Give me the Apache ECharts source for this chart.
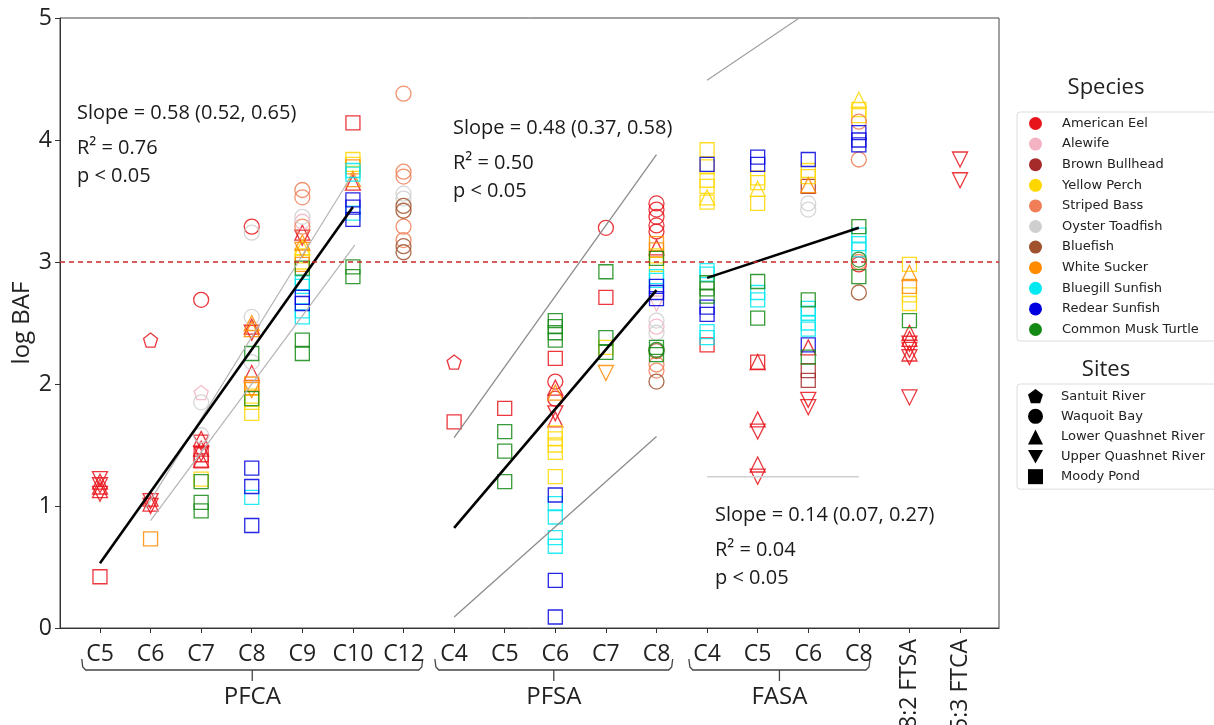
<!DOCTYPE html>
<html>
<head>
<meta charset="utf-8">
<script src="https://cdn.jsdelivr.net/npm/echarts@6.0.0/dist/echarts.min.js"></script>
<style>
  html, body { margin: 0; padding: 0; background: #ffffff; }
  #chart { width: 1214px; height: 725px; }
</style>
</head>
<body>
<div id="chart"></div>
<script>
// ---- categories (x positions are their indices) ----
const categories = ['C5', 'C6', 'C7', 'C8', 'C9', 'C10', 'C12',
                    'C4', 'C5', 'C6', 'C7', 'C8',
                    'C4', 'C5', 'C6', 'C8',
                    '8:2 FTSA', '5:3 FTCA'];
const groupNames = ['PFCA', 'PFSA', 'FASA'];
const yTicks = [0, 1, 2, 3, 4, 5];
const threshold = 3;

// ---- sites (S Santuit, W Waquoit, L Lower Quashnet, U Upper Quashnet, M Moody Pond) ----
const siteNames = ['Santuit River', 'Waquoit Bay', 'Lower Quashnet River', 'Upper Quashnet River', 'Moody Pond'];
const siteCodes = ['S', 'W', 'L', 'U', 'M'];

// ---- log BAF by species: [category index, log BAF, site] ----
const americanEel = [
  [0, 1.13, 'L'], [0, 1.20, 'L'], [0, 1.16, 'L'], [0, 1.10, 'U'], [0, 1.17, 'U'], [0, 1.22, 'U'], [0, 0.42, 'M'],
  [1, 2.36, 'S'], [1, 1.06, 'L'], [1, 1.02, 'L'], [1, 1.00, 'U'], [1, 1.04, 'U'],
  [2, 2.69, 'W'], [2, 1.55, 'L'], [2, 1.47, 'L'], [2, 1.38, 'L'], [2, 1.52, 'U'], [2, 1.43, 'U'], [2, 1.37, 'M'], [2, 1.42, 'M'],
  [3, 3.29, 'W'], [3, 2.47, 'L'], [3, 2.09, 'L'], [3, 2.42, 'U'],
  [4, 3.24, 'L'], [4, 3.20, 'U'],
  [5, 4.14, 'M'], [5, 3.65, 'L'],
  [7, 2.18, 'S'], [7, 1.69, 'M'],
  [8, 1.80, 'M'],
  [9, 2.21, 'M'], [9, 2.02, 'W'], [9, 1.88, 'W'], [9, 1.97, 'L'], [9, 1.71, 'L'], [9, 1.76, 'U'],
  [10, 3.28, 'W'], [10, 2.71, 'M'],
  [11, 3.48, 'W'], [11, 3.43, 'W'], [11, 3.37, 'W'], [11, 3.30, 'W'], [11, 3.25, 'W'], [11, 3.12, 'L'],
  [12, 2.32, 'M'],
  [13, 2.18, 'M'], [13, 2.18, 'L'], [13, 1.71, 'L'], [13, 1.61, 'U'], [13, 1.34, 'L'], [13, 1.24, 'U'],
  [14, 2.30, 'L'], [14, 1.87, 'U'], [14, 1.81, 'U'],
  [15, 2.98, 'W'],
  [16, 2.42, 'L'], [16, 2.37, 'L'], [16, 2.25, 'L'], [16, 2.33, 'U'], [16, 2.28, 'U'], [16, 2.22, 'U'], [16, 1.89, 'U'],
  [17, 3.84, 'U'], [17, 3.67, 'U']
];
const alewife = [[2, 1.93, 'S'], [4, 3.33, 'W'], [11, 2.66, 'U'], [11, 2.47, 'W']];
const brownBullhead = [[14, 3.62, 'M'], [14, 2.11, 'M'], [14, 2.03, 'M']];
const yellowPerch = [
  [2, 1.22, 'M'],
  [3, 1.90, 'M'], [3, 1.85, 'M'], [3, 1.76, 'M'],
  [4, 3.05, 'M'], [4, 3.00, 'M'], [4, 3.12, 'L'],
  [5, 3.84, 'M'], [5, 3.80, 'M'],
  [9, 1.60, 'M'], [9, 1.55, 'M'], [9, 1.50, 'M'], [9, 1.44, 'M'], [9, 1.24, 'M'],
  [10, 2.30, 'M'],
  [11, 3.05, 'M'], [11, 2.98, 'M'],
  [12, 3.92, 'M'], [12, 3.78, 'M'], [12, 3.67, 'M'], [12, 3.62, 'M'], [12, 3.53, 'L'], [12, 3.49, 'M'],
  [13, 3.69, 'M'], [13, 3.65, 'M'], [13, 3.60, 'L'], [13, 3.48, 'M'],
  [14, 3.75, 'M'], [14, 3.70, 'M'],
  [15, 4.33, 'L'], [15, 4.25, 'M'], [15, 4.20, 'M'],
  [16, 2.98, 'M'], [16, 2.73, 'M'], [16, 2.66, 'M']
];
const stripedBass = [
  [4, 3.59, 'W'], [4, 3.53, 'W'], [4, 3.29, 'W'],
  [6, 4.38, 'W'], [6, 3.74, 'W'], [6, 3.70, 'W'], [6, 3.29, 'W'], [6, 3.18, 'W'],
  [11, 2.11, 'W'], [11, 2.16, 'W'],
  [15, 4.15, 'W'], [15, 3.84, 'W'], [15, 3.00, 'W']
];
const oysterToadfish = [
  [2, 1.85, 'W'], [2, 1.58, 'W'], [3, 3.24, 'W'], [3, 2.55, 'W'], [3, 2.18, 'W'], [4, 3.37, 'W'],
  [6, 3.56, 'W'], [6, 3.52, 'W'], [11, 2.42, 'W'], [11, 2.52, 'W'], [14, 3.48, 'W'], [14, 3.43, 'W']
];
const bluefish = [[6, 3.46, 'W'], [6, 3.42, 'W'], [6, 3.13, 'W'], [6, 3.08, 'W'], [11, 2.02, 'W'], [11, 2.27, 'W'], [15, 2.75, 'W']];
const whiteSucker = [
  [1, 0.73, 'M'], [3, 2.50, 'L'], [3, 2.45, 'L'], [3, 2.00, 'M'], [3, 1.97, 'M'], [3, 1.95, 'U'],
  [4, 3.10, 'U'], [4, 2.98, 'M'], [4, 3.16, 'L'], [5, 3.78, 'M'], [5, 3.68, 'L'],
  [9, 1.93, 'L'], [10, 2.09, 'U'], [11, 3.15, 'M'], [11, 3.10, 'M'], [14, 3.63, 'L'],
  [16, 2.91, 'L'], [16, 2.80, 'M']
];
const bluegillSunfish = [
  [3, 1.07, 'M'], [4, 2.83, 'M'], [4, 2.80, 'M'], [4, 2.60, 'M'], [4, 2.55, 'M'],
  [5, 3.75, 'M'], [5, 3.72, 'M'], [5, 3.40, 'M'],
  [9, 1.02, 'M'], [9, 0.91, 'M'], [9, 0.74, 'M'], [9, 0.67, 'M'],
  [11, 2.88, 'M'], [11, 2.85, 'M'],
  [12, 2.93, 'M'], [12, 2.90, 'M'], [12, 2.43, 'M'], [12, 2.38, 'M'],
  [13, 2.75, 'M'], [13, 2.69, 'M'],
  [14, 2.62, 'M'], [14, 2.58, 'M'], [14, 2.50, 'M'], [14, 2.45, 'M'],
  [15, 3.22, 'M'], [15, 3.15, 'M'], [15, 3.10, 'M']
];
const redearSunfish = [
  [3, 1.31, 'M'], [3, 1.16, 'M'], [3, 0.84, 'M'], [4, 2.71, 'M'], [4, 2.66, 'M'],
  [5, 3.51, 'M'], [5, 3.45, 'M'], [5, 3.35, 'M'],
  [9, 1.09, 'M'], [9, 0.39, 'M'], [9, 0.09, 'M'],
  [11, 2.80, 'M'], [11, 2.75, 'M'], [11, 2.70, 'M'],
  [12, 3.80, 'M'], [12, 2.63, 'M'], [12, 2.57, 'M'],
  [13, 3.86, 'M'], [13, 3.80, 'M'], [14, 3.84, 'M'], [14, 2.32, 'M'],
  [15, 4.06, 'M'], [15, 4.00, 'M'], [15, 3.96, 'M']
];
const muskTurtle = [
  [2, 1.20, 'M'], [2, 1.03, 'M'], [2, 0.96, 'M'], [3, 2.25, 'M'], [3, 1.88, 'M'],
  [4, 2.95, 'M'], [4, 2.36, 'M'], [4, 2.25, 'M'], [5, 2.96, 'M'], [5, 2.88, 'M'],
  [8, 1.61, 'M'], [8, 1.45, 'M'], [8, 1.20, 'M'],
  [9, 2.52, 'M'], [9, 2.47, 'M'], [9, 2.42, 'M'], [9, 2.36, 'M'],
  [10, 2.92, 'M'], [10, 2.38, 'M'], [10, 2.26, 'M'],
  [11, 3.03, 'M'], [11, 2.30, 'M'], [11, 2.24, 'M'], [11, 2.28, 'W'],
  [12, 2.83, 'M'], [12, 2.78, 'M'], [12, 2.72, 'M'], [13, 2.84, 'M'], [13, 2.54, 'M'],
  [14, 2.69, 'M'], [14, 2.22, 'M'], [15, 3.29, 'M'], [15, 2.88, 'M'], [15, 3.02, 'W'],
  [16, 2.52, 'M']
];

// ---- regression fits and their bounds: [category index, log BAF] ----
const pfcaFit = [[0, 0.53], [5, 3.45]];
const pfcaUpper = [[0.9, 0.98], [4.92, 3.67]];
const pfcaLower = [[1.0, 0.88], [5.04, 3.14]];
const pfsaFit = [[7, 0.82], [11, 2.77]];
const pfsaUpper = [[7, 1.56], [11, 3.88]];
const pfsaLower = [[7, 0.09], [11, 1.57]];
const fasaFit = [[12, 2.87], [15, 3.28]];
const fasaUpper = [[12, 4.49], [15, 5.33]];
const fasaLower = [[12, 1.24], [15, 1.24]];

const fitStats = [
  ['Slope = 0.58 (0.52, 0.65)', 'R² = 0.76', 'p < 0.05'],
  ['Slope = 0.48 (0.37, 0.58)', 'R² = 0.50', 'p < 0.05'],
  ['Slope = 0.14 (0.07, 0.27)', 'R² = 0.04', 'p < 0.05']
];

// ---- drawing ----
const species = [
  { name: 'American Eel', color: '#e8141b', data: americanEel },
  { name: 'Alewife', color: '#f4b3c2', data: alewife },
  { name: 'Brown Bullhead', color: '#a52a2a', data: brownBullhead },
  { name: 'Yellow Perch', color: '#ffd700', data: yellowPerch },
  { name: 'Striped Bass', color: '#f07f57', data: stripedBass },
  { name: 'Oyster Toadfish', color: '#cfcfcf', data: oysterToadfish },
  { name: 'Bluefish', color: '#a0522d', data: bluefish },
  { name: 'White Sucker', color: '#ff8c00', data: whiteSucker },
  { name: 'Bluegill Sunfish', color: '#00e8f0', data: bluegillSunfish },
  { name: 'Redear Sunfish', color: '#0000e0', data: redearSunfish },
  { name: 'Common Musk Turtle', color: '#148a14', data: muskTurtle }
];

const PENTAGON = 'path://M0,-1L0.951,-0.309L0.588,0.809L-0.588,0.809L-0.951,-0.309Z';
const DOWN_TRI = 'path://M-1,-0.9L1,-0.9L0,0.9Z';
const siteStyle = {
  S: { symbol: PENTAGON, size: 14, rotate: 0 },
  W: { symbol: 'circle', size: 15, rotate: 0 },
  L: { symbol: 'triangle', size: 15, rotate: 0 },
  U: { symbol: 'triangle', size: 15, rotate: 180 },
  M: { symbol: 'rect', size: 14, rotate: 0 }
};
const siteLegendIcons = [PENTAGON, 'circle', 'triangle', DOWN_TRI, 'rect'];

const TEXT_FONT = '"Open Sans", "Noto Sans", sans-serif';
const LEGEND_FONT = '"DejaVu Sans", sans-serif';
const X_MIN = -0.79, X_MAX = 17.77;

const series = [];
species.forEach(sp => {
  series.push({
    name: sp.name,
    type: 'scatter',
    z: 2,
    silent: true,
    itemStyle: { color: 'transparent', borderColor: sp.color, borderWidth: 1.3, opacity: 0.85 },
    emphasis: { disabled: true },
    data: sp.data.map(([x, y, s]) => ({
      value: [x, y],
      symbol: siteStyle[s].symbol,
      symbolSize: siteStyle[s].size,
      symbolRotate: siteStyle[s].rotate
    }))
  });
});
siteNames.forEach(n => {
  series.push({ name: n, type: 'scatter', data: [], itemStyle: { color: '#000' } });
});

function fitLine(data, color, width, z) {
  return {
    type: 'line', data: data, symbol: 'none', silent: true, z: z, clip: true,
    lineStyle: { color: color, width: width }, emphasis: { disabled: true }
  };
}
series.push(fitLine(pfcaUpper, '#b5b5b5', 1.2, 3));
series.push(fitLine(pfcaLower, '#b5b5b5', 1.2, 3));
series.push(fitLine(pfsaUpper, '#8c8c8c', 1.3, 3));
series.push(fitLine(pfsaLower, '#8c8c8c', 1.3, 3));
series.push(fitLine(fasaUpper, '#a0a0a0', 1.2, 3));
series.push(fitLine(fasaLower, '#d0d0d0', 1.5, 3));
const dashed = fitLine(pfcaFit, '#000', 2.6, 4);
dashed.markLine = {
  silent: true, symbol: ['none', 'none'], label: { show: false },
  lineStyle: { color: '#cc2a2a', type: [5, 4], width: 1.5 },
  data: [{ yAxis: threshold }]
};
series.push(dashed);
series.push(fitLine(pfsaFit, '#000', 2.6, 4));
series.push(fitLine(fasaFit, '#000', 2.6, 4));

const option = {
  animation: false,
  backgroundColor: '#ffffff',
  grid: {
    left: 60, top: 18, right: 215, bottom: 97,
    show: true, borderColor: '#444', borderWidth: 1, backgroundColor: 'transparent',
    outerBoundsMode: 'none'
  },
  xAxis: [
    {
      type: 'value', min: X_MIN, max: X_MAX,
      splitLine: { show: false },
      axisLine: { show: true, onZero: false, lineStyle: { color: '#333', width: 1 } },
      axisTick: { show: true, length: 5, lineStyle: { color: '#333' },
                  customValues: categories.map((c, i) => i) },
      axisLabel: {
        customValues: categories.slice(0, 16).map((c, i) => i),
        formatter: v => categories[Math.round(v)],
        fontFamily: TEXT_FONT, fontSize: 23, color: '#222', margin: 15
      }
    },
    {
      type: 'value', min: X_MIN, max: X_MAX, position: 'bottom',
      splitLine: { show: false }, axisLine: { show: false, onZero: false }, axisTick: { show: false },
      axisLabel: {
        customValues: [16, 17],
        formatter: v => categories[Math.round(v)],
        rotate: 90, fontFamily: TEXT_FONT, fontSize: 23, color: '#222', margin: 11
      }
    }
  ],
  yAxis: {
    type: 'value', min: yTicks[0], max: yTicks[yTicks.length - 1], interval: 1,
    splitLine: { show: false },
    axisLine: { show: true, onZero: false, lineStyle: { color: '#333', width: 1 } },
    axisTick: { show: true, length: 5, lineStyle: { color: '#333' } },
    axisLabel: { fontFamily: TEXT_FONT, fontSize: 23, color: '#222', margin: 8 },
    name: 'log BAF', nameLocation: 'middle', nameGap: 26, nameMoveOverlap: false,
    nameTextStyle: { fontFamily: TEXT_FONT, fontSize: 24, color: '#222' }
  },
  legend: [
    {
      orient: 'vertical', left: 1017, top: 112,
      padding: [5, 30, 5, 12],
      itemWidth: 13, itemHeight: 13, itemGap: 7.6,
      backgroundColor: '#fff', borderColor: '#dcdcdc', borderWidth: 1, borderRadius: 3,
      selectedMode: false,
      textStyle: { fontFamily: LEGEND_FONT, fontSize: 13, color: '#222', padding: [0, 0, 0, 15] },
      data: species.map(sp => ({ name: sp.name, icon: 'circle',
        itemStyle: { color: sp.color, borderWidth: 0, opacity: 1 } }))
    },
    {
      orient: 'vertical', left: 1017, top: 384,
      padding: [5, 30, 5, 11],
      itemWidth: 15, itemHeight: 15, itemGap: 5.6,
      backgroundColor: '#fff', borderColor: '#dcdcdc', borderWidth: 1, borderRadius: 3,
      selectedMode: false,
      textStyle: { fontFamily: LEGEND_FONT, fontSize: 13, color: '#222', padding: [0, 0, 0, 13] },
      data: siteNames.map((n, i) => ({ name: n, icon: siteLegendIcons[i],
        itemStyle: { color: '#000', borderWidth: 0, opacity: 1 } }))
    }
  ],
  series: series
};

const chart = echarts.init(document.getElementById('chart'), null, { renderer: 'canvas' });
chart.setOption(option);

// ---- brackets under the compound groups, annotations and legend titles ----
const bracketSpans = [[-0.36, 6.38], [6.62, 11.32], [11.64, 15.22]];
const px = v => chart.convertToPixel({ gridIndex: 0 }, [v, 0]);
const axisY = px(0)[1];
const graphics = [];
bracketSpans.forEach((span, i) => {
  const x0 = px(span[0])[0], x1 = px(span[1])[0], xc = (x0 + x1) / 2;
  const yb = axisY + 42;
  graphics.push({
    type: 'polyline', silent: true,
    shape: { points: [[x0, yb - 11], [x0 + 1, yb - 3], [x0 + 4, yb], [x1 - 4, yb], [x1 - 1, yb - 3], [x1, yb - 11]] },
    style: { stroke: '#444', lineWidth: 1.3, fill: null }
  });
  graphics.push({
    type: 'line', silent: true,
    shape: { x1: xc, y1: yb, x2: xc, y2: yb + 11 },
    style: { stroke: '#444', lineWidth: 1.3 }
  });
  graphics.push({
    type: 'text', silent: true, x: xc, y: axisY + 69,
    style: { text: groupNames[i], font: '24px ' + TEXT_FONT, fill: '#222', align: 'center', verticalAlign: 'middle' }
  });
});

const statAnchors = [[77, 113], [453, 128], [715, 515]];
const lineOffsets = [0, 35, 63];
fitStats.forEach((lines, i) => {
  lines.forEach((t, j) => {
    graphics.push({
      type: 'text', silent: true, x: statAnchors[i][0], y: statAnchors[i][1] + lineOffsets[j],
      style: { text: t, font: '20px ' + TEXT_FONT, fill: '#1a1a1a', align: 'left', verticalAlign: 'middle' }
    });
  });
});

graphics.push({
  type: 'text', silent: true, x: 1106, y: 88,
  style: { text: 'Species', font: '22px ' + TEXT_FONT, fill: '#222', align: 'center', verticalAlign: 'middle' }
});
graphics.push({
  type: 'text', silent: true, x: 1106, y: 370,
  style: { text: 'Sites', font: '22px ' + TEXT_FONT, fill: '#222', align: 'center', verticalAlign: 'middle' }
});

chart.setOption({ graphic: graphics });
</script>
</body>
</html>
